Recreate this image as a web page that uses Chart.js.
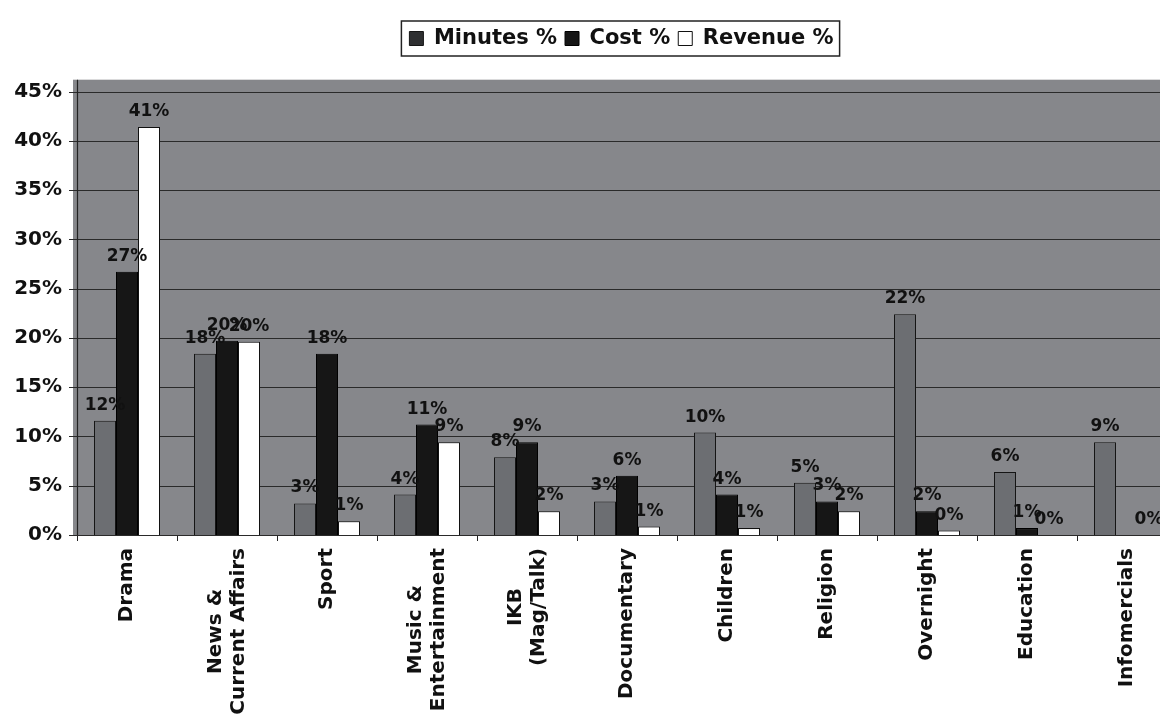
<!DOCTYPE html>
<html>
<head>
<meta charset="utf-8">
<script src="https://cdn.jsdelivr.net/npm/chart.js@4.4.1/dist/chart.umd.min.js"></script>
<style>
  html, body { margin: 0; padding: 0; background: #ffffff; overflow: hidden; }
  #wrap { width: 1160px; height: 715px; overflow: hidden; position: relative; }
  canvas { display: block; }
</style>
</head>
<body>
<div id="wrap"><canvas id="c" width="1185" height="715"></canvas></div>
<script>
// ---- data ----
const categories = [
  'Drama',
  ['News &', 'Current Affairs'],
  'Sport',
  ['Music &', 'Entertainment'],
  ['IKB', '(Mag/Talk)'],
  'Documentary',
  'Children',
  'Religion',
  'Overnight',
  'Education',
  'Infomercials'
];
const seriesNames = ['Minutes %', 'Cost %', 'Revenue %'];
const minutesPct = [11.6, 18.4, 3.2, 4.1, 7.9, 3.4, 10.4, 5.3, 22.4, 6.4, 9.4];
const costPct    = [26.7, 19.7, 18.4, 11.2, 9.4, 6.0, 4.1, 3.4, 2.4, 0.7, null];
const revenuePct = [41.4, 19.6, 1.4, 9.4, 2.4, 0.85, 0.7, 2.4, 0.45, 0, 0];
const yTickStep = 5;
const yTickMax = 45;

// ---- styles ----
const FONT = "'DejaVu Sans', Verdana, sans-serif";
const PLOT_BG = '#86878b';
const PLOT_BG_TOP = 46.2;   // value level where plot background starts
const LEGEND_SHIFT = 33;

const bgPlugin = {
  id: 'plotBg',
  afterLayout(chart) {
    if (chart.legend) {
      chart.legend.left += LEGEND_SHIFT;
      chart.legend.right += LEGEND_SHIFT;
    }
  },
  beforeDatasetsDraw(chart) {
    const {ctx, chartArea, scales} = chart;
    const top = scales.y.getPixelForValue(PLOT_BG_TOP);
    ctx.save();
    ctx.fillStyle = PLOT_BG;
    ctx.fillRect(chartArea.left - 4, top, chartArea.right - chartArea.left + 4, chartArea.bottom - top);
    ctx.strokeStyle = '#2a2a2a';
    ctx.lineWidth = 1;
    scales.y.ticks.forEach(t => {
      const y = Math.round(scales.y.getPixelForValue(t.value)) + 0.5;
      ctx.beginPath();
      ctx.moveTo(chartArea.left - 8, y);
      ctx.lineTo(chartArea.right, y);
      ctx.stroke();
    });
    ctx.strokeStyle = '#222';
    ctx.lineWidth = 1.2;
    ctx.beginPath();
    ctx.moveTo(chartArea.left + 0.5, top);
    ctx.lineTo(chartArea.left + 0.5, chartArea.bottom);
    ctx.stroke();
    ctx.restore();
  }
};

const labelPlugin = {
  id: 'valueLabels',
  afterDatasetsDraw(chart) {
    const {ctx} = chart;
    ctx.save();
    ctx.font = 'bold 17px ' + FONT;
    ctx.fillStyle = '#111';
    ctx.textAlign = 'center';
    ctx.textBaseline = 'alphabetic';
    chart.data.datasets.forEach((ds, i) => {
      const meta = chart.getDatasetMeta(i);
      meta.data.forEach((bar, j) => {
        const v = ds.data[j];
        if (v === null || v === undefined) return;
        ctx.fillText(Math.round(v) + '%', bar.x, bar.y - 11);
      });
    });
    ctx.restore();
  }
};

const xLabelPlugin = {
  id: 'xLabels',
  afterDraw(chart) {
    const {ctx, scales} = chart;
    const xs = scales.x;
    const lineH = 23;
    ctx.save();
    ctx.font = 'bold 20px ' + FONT;
    ctx.fillStyle = '#111';
    ctx.textAlign = 'center';
    ctx.textBaseline = 'middle';
    categories.forEach((lab, i) => {
      const lines = Array.isArray(lab) ? lab : [lab];
      const maxW = Math.max(...lines.map(l => ctx.measureText(l).width));
      const x = xs.getPixelForTick(i);
      ctx.save();
      ctx.translate(x, xs.top + 13);
      ctx.rotate(-Math.PI / 2);
      lines.forEach((l, k) => {
        ctx.fillText(l, -maxW / 2, (k - (lines.length - 1) / 2) * lineH);
      });
      ctx.restore();
    });
    ctx.restore();
  }
};

const legendBoxPlugin = {
  id: 'legendBox',
  afterDraw(chart) {
    const hb = chart.legend && chart.legend.legendHitBoxes;
    if (!hb || !hb.length) return;
    const {ctx} = chart;
    const first = hb[0], last = hb[hb.length - 1];
    const l = first.left - 8, r = last.left + last.width + 6;
    const t = first.top - 7, b = first.top + first.height + 7;
    ctx.save();
    ctx.strokeStyle = '#222';
    ctx.lineWidth = 1.5;
    ctx.strokeRect(l, t, r - l, b - t);
    ctx.restore();
  }
};

new Chart(document.getElementById('c'), {
  type: 'bar',
  data: {
    labels: categories,
    datasets: [
      { label: seriesNames[0], data: minutesPct, backgroundColor: '#6c6e72', borderColor: '#151515', borderWidth: 1 },
      { label: seriesNames[1], data: costPct, backgroundColor: '#161616', borderColor: '#000', borderWidth: 1 },
      { label: seriesNames[2], data: revenuePct, backgroundColor: '#ffffff', borderColor: '#111', borderWidth: 1 }
    ]
  },
  options: {
    responsive: false,
    animation: false,
    devicePixelRatio: 1,
    layout: { padding: { left: 0, right: 8, top: 20, bottom: 0 } },
    datasets: { bar: { categoryPercentage: 0.66, barPercentage: 1.0 } },
    plugins: {
      legend: {
        position: 'top',
        labels: {
          font: { family: FONT, size: 21, weight: 'bold' },
          color: '#111',
          boxWidth: 14,
          boxHeight: 14,
          padding: 8,
          generateLabels(chart) {
            const items = Chart.defaults.plugins.legend.labels.generateLabels(chart);
            if (items[0]) items[0].fillStyle = '#2e2f31';
            return items;
          }
        }
      },
      tooltip: { enabled: false }
    },
    scales: {
      x: {
        grid: { display: true, drawOnChartArea: false, drawTicks: true, tickLength: 6, color: '#222', offset: true },
        border: { display: true, color: '#111', width: 1.5 },
        ticks: { display: false },
        afterFit(scale) { scale.height = 180; }
      },
      y: {
        min: 0,
        max: 48.3,
        grid: { display: false, drawTicks: false },
        border: { display: false },
        ticks: {
          stepSize: yTickStep,
          includeBounds: false,
          padding: 15,
          color: '#111',
          font: { family: FONT, size: 20, weight: 'bold' },
          callback: (v) => (v <= yTickMax ? v + '%' : '')
        },
        afterFit(scale) { scale.width = 77; }
      }
    }
  },
  plugins: [bgPlugin, labelPlugin, xLabelPlugin, legendBoxPlugin]
});
</script>
</body>
</html>
